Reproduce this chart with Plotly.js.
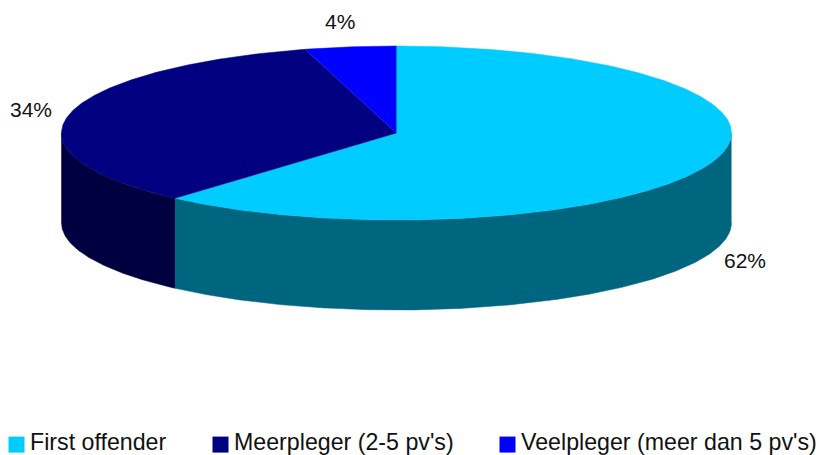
<!DOCTYPE html>
<html><head><meta charset="utf-8">
<script src="https://cdn.plot.ly/plotly-3.0.1.min.js"></script>
<style>html,body{margin:0;padding:0;background:#fff;overflow:hidden}</style>
</head><body><div id="chart" style="width:816px;height:455px"></div>
<script>
// Data
const categories = ["First offender", "Meerpleger (2-5 pv's)", "Veelpleger (meer dan 5 pv's)"];
const shares = [61.5, 34.1, 4.4];
const shareLabels = ["62%", "34%", "4%"];
// Styles
const topColors = ["#00CCFF", "#000080", "#0000FF"];
const sideColors = ["#006680", "#000040", "#000080"];
const labelPos = [[745, 260], [31, 109], [340, 21]];
const legendLeft = [-10, 194, 481];
const disc = {cx: 396.5, cy: 133, rx: 335, ry: 87, depth: 90};

const pt = (deg, drop) => {
  const r = deg * Math.PI / 180;
  return [disc.cx + disc.rx * Math.sin(r), disc.cy - disc.ry * Math.cos(r) + drop];
};
function arc(a0, a1, drop) {
  const out = [], n = Math.max(2, Math.ceil(Math.abs(a1 - a0) * 2));
  for (let i = 0; i <= n; i++) out.push(pt(a0 + (a1 - a0) * i / n, drop));
  return out;
}
function poly(points, color) {
  return {type: "scatter", mode: "lines", x: points.map(p => p[0]), y: points.map(p => p[1]),
    fill: "toself", fillcolor: color, line: {width: 0.5, color: color},
    hoverinfo: "skip", showlegend: false};
}
const sides = [], tops = [];
let start = 0;
shares.forEach((v, i) => {
  const end = start + v * 3.6;
  tops.push(poly([[disc.cx, disc.cy]].concat(arc(start, end, 0)), topColors[i]));
  const a0 = Math.max(start, 90), a1 = Math.min(end, 270);
  if (a1 > a0) sides.push(poly(arc(a0, a1, 0).concat(arc(a1, a0, disc.depth)), sideColors[i]));
  start = end;
});
const legendIds = ["legend", "legend2", "legend3"];
const legendTraces = categories.map((c, i) => ({
  type: "scatter", mode: "markers", x: [null], y: [null], name: c, legend: legendIds[i],
  marker: {symbol: "square", size: 17, color: topColors[i]}, hoverinfo: "skip"
}));
const font = "Liberation Sans, Arial, sans-serif";
const layout = {
  width: 816, height: 455, margin: {l: 0, r: 0, t: 0, b: 0, autoexpand: false},
  paper_bgcolor: "#fff", plot_bgcolor: "#fff",
  xaxis: {range: [0, 816], visible: false, fixedrange: true},
  yaxis: {range: [455, 0], visible: false, fixedrange: true},
  showlegend: true,
  annotations: shareLabels.map((t, i) => ({
    text: t, x: labelPos[i][0], y: labelPos[i][1], xref: "x", yref: "y", showarrow: false,
    font: {family: font, size: 21, color: "#111"}
  }))
};
legendIds.forEach((id, i) => {
  layout[id] = {orientation: "h", x: legendLeft[i] / 816, xanchor: "left", y: 1 - 441 / 455, yanchor: "middle",
    font: {family: font, size: 23.2, color: "#111"}, bgcolor: "rgba(0,0,0,0)",
    itemclick: false, itemdoubleclick: false};
});
Plotly.newPlot("chart", sides.concat(tops, legendTraces), layout, {displayModeBar: false, staticPlot: true})
  .then(() => {
    // the reference keeps its legend squares closer to the text than Plotly's fixed gap
    document.querySelectorAll(".legendsymbols").forEach(g => g.setAttribute("transform", "translate(6.5,4)"));
  });
</script></body></html>
